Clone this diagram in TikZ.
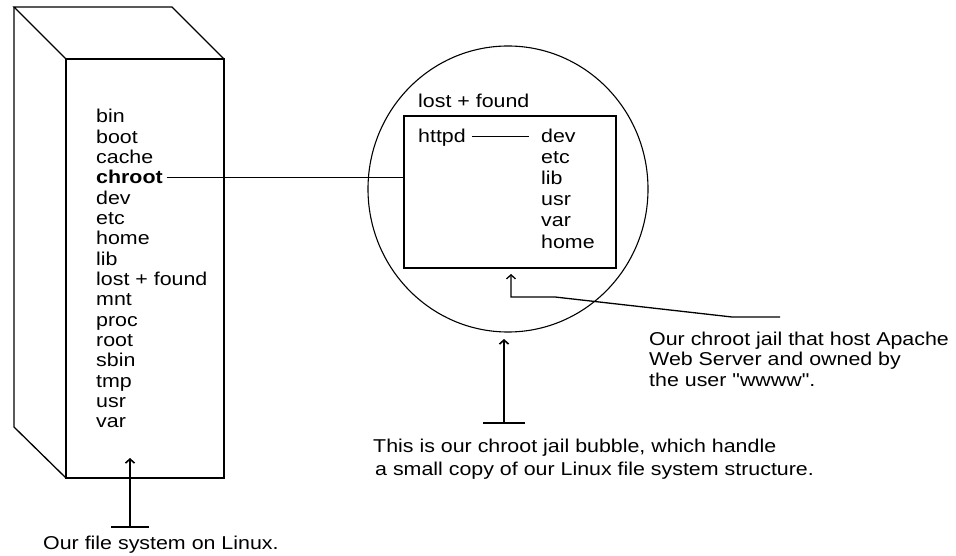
\documentclass[tikz,border=0pt]{standalone}
\usepackage{fontspec}
\setmainfont{Liberation Sans}[FakeStretch=1.15,Ligatures=TeXOff]
\usetikzlibrary{arrows.meta}

\begin{document}
\begin{tikzpicture}[x=1pt,y=-1pt,
	lbl/.style={font=\fontsize{18.6}{20.5}\selectfont,inner sep=0pt,anchor=base west},
	ptr/.style={line width=1.6pt,{Bar[width=#1]}-{Straight Barb[length=4pt,width=9pt]}}]
	\useasboundingbox (0,0) rectangle (956,556);
	% the tower
	\draw[line width=1.3pt] (66,59) -- (14,7) -- (172,7) -- (224,59);
	\draw[line width=1.3pt] (14,7) -- (14,427) -- (66,478);
	\draw[line width=2pt] (66,59) rectangle (224,478);
	\foreach \d [count=\i] in {bin,boot,cache,\textbf{chroot},dev,etc,home,lib,lost + found,mnt,proc,root,sbin,tmp,usr,var}
		\node[lbl] (fs\i) at (96,{123+20.33*(\i-1)}) {\d};
	% the bubble
	\draw[line width=1.1pt] (508,189) ellipse [x radius=140,y radius=143];
	\node[draw,line width=1.8pt,minimum width=212pt,minimum height=152pt,anchor=north west,inner sep=0pt] (jailbox) at (403,115) {};
	\node[lbl] (lf) at (418,108) {lost + found};
	\node[lbl] (httpd) at (418,143) {httpd};
	\foreach \d [count=\i] in {dev,etc,lib,usr,var,home}
		\node[lbl] (jd\i) at (541,{143+21*(\i-1)}) {\d};
	\draw[line width=1.3pt,shorten <=6pt,shorten >=12pt] (httpd.east |- jd1.west) -- (jd1.west);
	\draw[line width=1.5pt,shorten <=4pt] (fs4.east) -- (fs4.east -| jailbox.west);
	% captions (base = last line)
	\node[lbl] (fscap) at (43,549) {Our file system on Linux.};
	\node[lbl,align=left,font=\fontsize{18.6}{23}\selectfont] (bubcap) at (373,475) {This is our chroot jail bubble, which handle\\\hspace*{2pt}a small copy of our Linux file system structure.};
	\node[lbl,align=left] (jailcap) at (649,386) {Our chroot jail that host Apache\\Web Server and owned by\\the user "wwww".};
	% pointers
	\coordinate (fstail) at (130,528);
	\coordinate (fstip) at (130,458);
	\coordinate (bubtail) at (504,424);
	\coordinate (bubtip) at (504,339);
	\coordinate (jailtail) at (780,317);
	\coordinate (jailtip) at (511,274);
	\draw[ptr=38pt] (fstail) -- (fstip);
	\draw[ptr=42pt] (bubtail) -- (bubtip);
	\draw[line width=1.3pt,-{Straight Barb[length=4pt,width=9pt]}] (jailtail) -- (732,317) -- (555,297) -- (511,297) -- (jailtip);
\end{tikzpicture}
\end{document}
